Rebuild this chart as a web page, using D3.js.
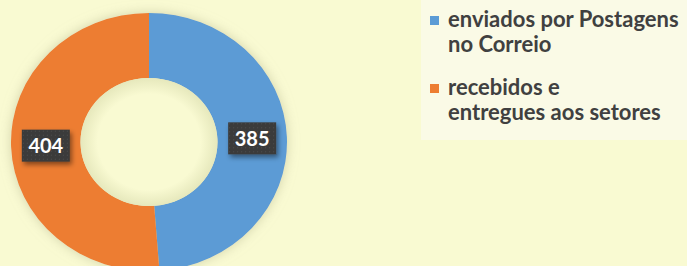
<!DOCTYPE html>
<html>
<head>
<meta charset="utf-8">
<script src="https://cdn.jsdelivr.net/npm/d3@7"></script>
<style>
  html, body { margin: 0; padding: 0; background: #f9fad2; }
  svg { display: block; }
</style>
</head>
<body>
<div id="chart"></div>
<script>
const categories = ['enviados por Postagens no Correio', 'recebidos e entregues aos setores'];
const values = [385, 404];
const legendLines = [['enviados por Postagens', 'no Correio'], ['recebidos e', 'entregues aos setores']];
const colors = ['#5b9bd5', '#ed7d31'];

const W = 687, H = 266;
const CX = 149, CY = 142, R_OUT = 138, R_IN = 68.5, SQUISH = 0.935;

const svg = d3.select('#chart').append('svg')
  .attr('width', W).attr('height', H);

const defs = svg.append('defs');

// soft glow round the ring
const glow = defs.append('filter').attr('id', 'glow')
  .attr('x', '-20%').attr('y', '-20%').attr('width', '140%').attr('height', '140%');
glow.append('feGaussianBlur').attr('in', 'SourceAlpha').attr('stdDeviation', 6).attr('result', 'b');
glow.append('feFlood').attr('flood-color', '#b8b890').attr('flood-opacity', 0.6);
glow.append('feComposite').attr('in2', 'b').attr('operator', 'in').attr('result', 's');
const gm = glow.append('feMerge');
gm.append('feMergeNode').attr('in', 's');
gm.append('feMergeNode').attr('in', 'SourceGraphic');

// label box shadow
const sh = defs.append('filter').attr('id', 'lblShadow')
  .attr('x', '-30%').attr('y', '-30%').attr('width', '170%').attr('height', '170%');
sh.append('feDropShadow').attr('dx', 2).attr('dy', 3).attr('stdDeviation', 2.5)
  .attr('flood-color', '#000').attr('flood-opacity', 0.45);

// dotted texture on label boxes
const pat = defs.append('pattern').attr('id', 'dots')
  .attr('width', 4).attr('height', 4).attr('patternUnits', 'userSpaceOnUse');
pat.append('rect').attr('width', 4).attr('height', 4).attr('fill', '#3a3a3a');
pat.append('rect').attr('x', 1).attr('y', 1).attr('width', 1).attr('height', 1).attr('fill', '#505050');

// inner hole shading
const hole = defs.append('radialGradient').attr('id', 'hole');
hole.append('stop').attr('offset', '0.75').attr('stop-color', '#f9fad2');
hole.append('stop').attr('offset', '1').attr('stop-color', '#e6e8bc');

const pie = d3.pie().sort(null).value(d => d)(values);
const arc = d3.arc().innerRadius(R_IN).outerRadius(R_OUT);
const labelArc = d3.arc().innerRadius((R_IN + R_OUT) / 2).outerRadius((R_IN + R_OUT) / 2);

const ring = svg.append('g')
  .attr('transform', `translate(${CX},${CY}) scale(1,${SQUISH})`);

ring.append('g').attr('filter', 'url(#glow)')
  .selectAll('path')
  .data(pie)
  .join('path')
  .attr('d', arc)
  .attr('fill', (d, i) => colors[i]);

ring.append('circle').attr('r', R_IN).attr('fill', 'url(#hole)');

// data labels
const lbl = svg.append('g').selectAll('g')
  .data(pie)
  .join('g')
  .attr('transform', d => {
    const [x, y] = labelArc.centroid(d);
    return `translate(${CX + x},${CY + y * SQUISH})`;
  });

lbl.append('rect')
  .attr('x', -24).attr('y', -16).attr('width', 48).attr('height', 32)
  .attr('fill', 'url(#dots)')
  .attr('filter', 'url(#lblShadow)');

lbl.append('text')
  .attr('text-anchor', 'middle')
  .attr('dy', '0.36em')
  .attr('fill', '#fff')
  .attr('font-family', 'Lato, "Open Sans", sans-serif')
  .attr('font-weight', 'bold')
  .attr('font-size', 20)
  .text(d => d.data);

// legend
svg.append('rect')
  .attr('x', 421).attr('y', 0).attr('width', W - 421).attr('height', 140)
  .attr('fill', '#fafae6');

const leg = svg.append('g').selectAll('g')
  .data(categories)
  .join('g')
  .attr('transform', (d, i) => `translate(430,${16 + i * 68})`);

leg.append('rect')
  .attr('width', 9).attr('height', 9)
  .attr('fill', (d, i) => colors[i]);

leg.append('text')
  .attr('fill', '#404040')
  .attr('font-family', 'Lato, "Open Sans", sans-serif')
  .attr('font-weight', 'bold')
  .attr('font-size', 22)
  .selectAll('tspan')
  .data((d, i) => legendLines[i])
  .join('tspan')
  .attr('x', 18)
  .attr('y', (d, j) => 11 + j * 25)
  .text(d => d);
</script>
</body>
</html>
